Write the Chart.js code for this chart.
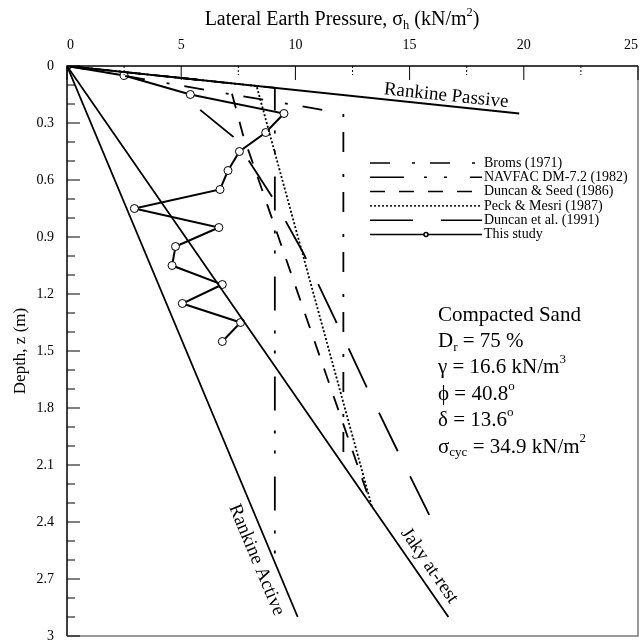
<!DOCTYPE html>
<html>
<head>
<meta charset="utf-8">
<script src="https://cdn.jsdelivr.net/npm/chart.js@4.4.1/dist/chart.umd.min.js"></script>
<style>
  html, body { margin: 0; padding: 0; background: #fff; }
  canvas { display: block; }
</style>
</head>
<body>
<canvas id="chart" width="643" height="641"></canvas>
<script>
// tick labels
const sigmaTicks = [0, 5, 10, 15, 20, 25];
const depthTicks = [0, 0.3, 0.6, 0.9, 1.2, 1.5, 1.8, 2.1, 2.4, 2.7, 3];

// theory lines, sigma_h (kN/m2) vs depth z (m)
const passiveSigma = [0, 19.8];
const passiveDepth = [0, 0.25];
const activeSigma = [0, 10.1];
const activeDepth = [0, 2.9];
const jakySigma = [0, 16.7];
const jakyDepth = [0, 2.9];

// compaction-induced pressure methods
const bromsSigma = [0, 12.1, 12.1];
const bromsDepth = [0, 0.25, 2.09];
const navfacSigma = [0, 9.1, 9.1];
const navfacDepth = [0, 0.115, 2.62];
const duncanSeedSigma = [0, 7.1, 7.7, 13.35];
const duncanSeedDepth = [0, 0.09, 0.36, 2.32];
const peckMesriSigma = [0, 8.3, 13.35];
const peckMesriDepth = [0, 0.105, 2.32];
const duncan91Sigma = [5.83, 7.28, 8.98, 10.34, 11.74, 13.12, 14.49, 15.89];
const duncan91Depth = [0.231, 0.373, 0.688, 0.983, 1.335, 1.69, 2.03, 2.37];

// measured (this study)
const studySigma = [0, 2.5, 5.4, 9.5, 8.7, 7.55, 7.05, 6.7, 2.95, 6.65, 4.75, 4.6, 6.8, 5.05, 7.6, 6.8];
const studyDepth = [0, 0.05, 0.15, 0.25, 0.35, 0.45, 0.55, 0.65, 0.75, 0.85, 0.95, 1.05, 1.15, 1.25, 1.35, 1.45];

const seriesNames = ["Broms (1971)", "NAVFAC DM-7.2 (1982)", "Duncan & Seed (1986)",
    "Peck & Mesri (1987)", "Duncan et al. (1991)", "This study"];

const SERIF = "'Liberation Serif', 'Times New Roman', serif";

function pts(xs, ys) {
    return xs.map((x, i) => ({ x: x, y: ys[i] }));
}

function lineSet(label, xs, ys, dash, offset, inLegend) {
    return {
        label: label,
        data: pts(xs, ys),
        borderColor: "#000",
        borderWidth: 1.8,
        borderDash: dash,
        borderDashOffset: offset,
        pointRadius: 0,
        fill: false,
        tension: 0,
        inLegend: inLegend,
    };
}

const datasets = [
    lineSet("passive", passiveSigma, passiveDepth, [], 0, false),
    lineSet("active", activeSigma, activeDepth, [], 0, false),
    lineSet("jaky", jakySigma, jakyDepth, [], 0, false),
    lineSet(seriesNames[0], bromsSigma, bromsDepth, [20, 22, 3, 15], 1, true),
    lineSet(seriesNames[1], navfacSigma, navfacDepth, [34, 20, 3, 17, 3, 23], 2.4, true),
    lineSet(seriesNames[2], duncanSeedSigma, duncanSeedDepth, [15, 14], 0, true),
    lineSet(seriesNames[3], peckMesriSigma, peckMesriDepth, [2, 2], 0, true),
    lineSet(seriesNames[4], duncan91Sigma, duncan91Depth, [43, 28], 0, true),
    {
        label: seriesNames[5],
        data: pts(studySigma, studyDepth),
        borderColor: "#000",
        borderWidth: 2,
        pointRadius: 4,
        pointBorderWidth: 1,
        pointBackgroundColor: "#fff",
        pointBorderColor: "#000",
        fill: false,
        tension: 0,
        inLegend: true,
    },
];

// text with a subscript / superscript part
function richText(ctx, parts, x, y, size) {
    let cx = x;
    parts.forEach((p) => {
        const s = p.sub || p.sup ? size * 0.62 : size;
        ctx.font = s + "px " + SERIF;
        const dy = p.sub ? size * 0.28 : p.sup ? -size * 0.38 : 0;
        ctx.fillText(p.t, cx, y + dy);
        cx += ctx.measureText(p.t).width;
    });
    return cx;
}
function richWidth(ctx, parts, size) {
    let w = 0;
    parts.forEach((p) => {
        const s = p.sub || p.sup ? size * 0.62 : size;
        ctx.font = s + "px " + SERIF;
        w += ctx.measureText(p.t).width;
    });
    return w;
}

const decorPlugin = {
    id: "decor",
    afterDatasetsDraw(chart) {
        const ctx = chart.ctx;
        const xs = chart.scales.x;
        const ys = chart.scales.y;
        const a = chart.chartArea;
        ctx.save();

        // frame
        ctx.lineWidth = 1.5;
        ctx.strokeStyle = "#000";
        ctx.beginPath();
        ctx.moveTo(a.left, a.bottom);
        ctx.lineTo(a.left, a.top);
        ctx.lineTo(a.right, a.top);
        ctx.stroke();
        ctx.strokeStyle = "#777";
        ctx.beginPath();
        ctx.moveTo(a.right, a.top);
        ctx.lineTo(a.right, a.bottom);
        ctx.lineTo(a.left, a.bottom);
        ctx.stroke();

        // inward ticks
        ctx.strokeStyle = "#000";
        ctx.lineWidth = 1;
        sigmaTicks.forEach((v, i) => {
            const px = xs.getPixelForValue(v);
            ctx.setLineDash([]);
            ctx.beginPath();
            ctx.moveTo(px, a.top);
            ctx.lineTo(px, a.top + 14);
            ctx.stroke();
            if (i < sigmaTicks.length - 1) {
                const mx = xs.getPixelForValue((v + sigmaTicks[i + 1]) / 2);
                ctx.setLineDash([2, 2]);
                ctx.beginPath();
                ctx.moveTo(mx, a.top);
                ctx.lineTo(mx, a.top + 9);
                ctx.stroke();
            }
        });
        ctx.setLineDash([]);
        depthTicks.forEach((v, i) => {
            const py = ys.getPixelForValue(v);
            ctx.beginPath();
            ctx.moveTo(a.left, py);
            ctx.lineTo(a.left + 13, py);
            ctx.stroke();
            if (i < depthTicks.length - 1) {
                const step = (depthTicks[i + 1] - v) / 3;
                for (let k = 1; k < 3; k++) {
                    const my = ys.getPixelForValue(v + step * k);
                    ctx.beginPath();
                    ctx.moveTo(a.left, my);
                    ctx.lineTo(a.left + 8, my);
                    ctx.stroke();
                }
            }
        });

        // top axis title
        ctx.fillStyle = "#000";
        ctx.textBaseline = "middle";
        ctx.textAlign = "left";
        const title = [{ t: "Lateral Earth Pressure, σ" }, { t: "h", sub: true }, { t: " (kN/m" }, { t: "2", sup: true }, { t: ")" }];
        const tw = richWidth(ctx, title, 20);
        richText(ctx, title, 342 - tw / 2, 20, 20);

        // line labels, rotated along their lines
        function lineLabel(text, xsArr, ysArr, at, offset) {
            const x0 = xs.getPixelForValue(xsArr[0]);
            const y0 = ys.getPixelForValue(ysArr[0]);
            const x1 = xs.getPixelForValue(xsArr[xsArr.length - 1]);
            const y1 = ys.getPixelForValue(ysArr[ysArr.length - 1]);
            const ang = Math.atan2(y1 - y0, x1 - x0);
            const cx = x0 + (x1 - x0) * at - Math.sin(ang) * offset;
            const cy = y0 + (y1 - y0) * at + Math.cos(ang) * offset;
            ctx.save();
            ctx.translate(cx, cy);
            ctx.rotate(ang);
            ctx.font = "19px " + SERIF;
            ctx.textAlign = "center";
            ctx.textBaseline = "middle";
            ctx.fillText(text, 0, 0);
            ctx.restore();
        }
        lineLabel("Rankine Passive", passiveSigma, passiveDepth, 0.836, -10);
        lineLabel("Rankine Active", activeSigma, activeDepth, 0.885, 16);
        lineLabel("Jaky at-rest", jakySigma, jakyDepth, 0.921, -13.5);

        // legend
        const lx0 = 370, lx1 = 482, ly0 = 163, lstep = 14.3;
        let row = 0;
        chart.data.datasets.forEach((ds) => {
            if (!ds.inLegend) return;
            const y = ly0 + row * lstep;
            ctx.strokeStyle = "#000";
            ctx.lineWidth = 1.5;
            ctx.setLineDash(ds.borderDash || []);
            ctx.lineDashOffset = 0;
            ctx.beginPath();
            ctx.moveTo(lx0, y);
            ctx.lineTo(lx1, y);
            ctx.stroke();
            ctx.setLineDash([]);
            if (ds.pointRadius) {
                ctx.fillStyle = "#fff";
                ctx.beginPath();
                ctx.arc((lx0 + lx1) / 2, y, 2, 0, Math.PI * 2);
                ctx.fill();
                ctx.stroke();
            }
            ctx.fillStyle = "#000";
            ctx.font = "14px " + SERIF;
            ctx.textAlign = "left";
            ctx.textBaseline = "middle";
            ctx.fillText(ds.label, lx1 + 2, y);
            row++;
        });

        // soil properties
        const px = 438, py0 = 315, pstep = 26.4, fs = 21;
        ctx.textBaseline = "middle";
        const props = [
            [{ t: "Compacted Sand" }],
            [{ t: "D" }, { t: "r", sub: true }, { t: " = 75 %" }],
            [{ t: "γ = 16.6 kN/m" }, { t: "3", sup: true }],
            [{ t: "ϕ = 40.8" }, { t: "o", sup: true }],
            [{ t: "δ = 13.6" }, { t: "o", sup: true }],
            [{ t: "σ" }, { t: "cyc", sub: true }, { t: " = 34.9 kN/m" }, { t: "2", sup: true }],
        ];
        props.forEach((p, i) => richText(ctx, p, px, py0 + i * pstep, fs));

        ctx.restore();
    },
};

// keep edge tick labels from shrinking the plot area
function noEdgePadding(s) {
    s.paddingLeft = 0;
    s.paddingRight = 0;
    s.paddingTop = 0;
    s.paddingBottom = 0;
}

new Chart(document.getElementById("chart"), {
    type: "line",
    data: { datasets: datasets },
    options: {
        responsive: false,
        animation: false,
        layout: { padding: { left: 0, right: 3, top: 0, bottom: 4 } },
        plugins: {
            legend: { display: false },
            tooltip: { enabled: false },
        },
        scales: {
            x: {
                type: "linear",
                position: "top",
                min: 0,
                max: 25,
                grid: { display: false, drawTicks: false },
                border: { display: false },
                afterBuildTicks: (s) => { s.ticks = sigmaTicks.map((v) => ({ value: v })); },
                afterFit: (s) => { s.height = 66; noEdgePadding(s); },
                ticks: {
                    padding: 12,
                    align: "inner",
                    color: "#000",
                    font: { family: SERIF, size: 14 },
                },
            },
            y: {
                type: "linear",
                reverse: true,
                min: 0,
                max: 3,
                grid: { display: false, drawTicks: false },
                border: { display: false },
                afterBuildTicks: (s) => { s.ticks = depthTicks.map((v) => ({ value: v })); },
                afterFit: (s) => { s.width = 67; noEdgePadding(s); },
                ticks: {
                    padding: 13,
                    color: "#000",
                    font: { family: SERIF, size: 14 },
                    callback: (v) => String(+v.toFixed(1)),
                },
                title: {
                    display: true,
                    text: "Depth, z (m)",
                    color: "#000",
                    font: { family: SERIF, size: 17 },
                    padding: { top: 10, bottom: 0 },
                },
            },
        },
    },
    plugins: [decorPlugin],
});
</script>
</body>
</html>
